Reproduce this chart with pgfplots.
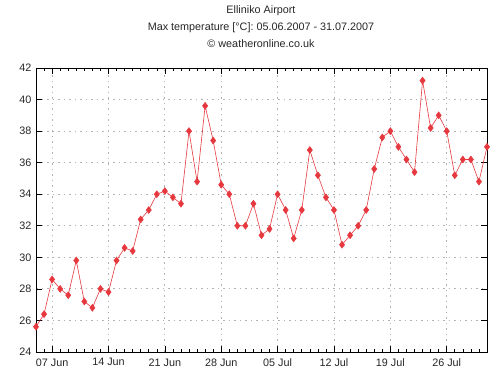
\documentclass[border=0pt]{standalone}
\usepackage{fontspec}
\setmainfont{Liberation Sans}
\usepackage{pgfplots}
\pgfplotsset{compat=1.18}
\definecolor{linered}{HTML}{E6393F}
\begin{document}
\begin{tikzpicture}
\useasboundingbox (0,0) rectangle (498bp,378bp);
\begin{axis}[
  at={(36bp,26bp)}, anchor=south west,
  scale only axis, width=451bp, height=284bp,
  xmin=0, xmax=56, ymin=24, ymax=42,
  ytick={24,26,...,42},
  xtick={2,9,16,23,30,37,44,51},
  xticklabels={07 Jun,14 Jun,21 Jun,28 Jun,05 Jul,12 Jul,19 Jul,26 Jul},
  minor xtick={0,1,...,56},
  tick align=inside,
  major tick length=6bp, minor tick length=3bp,
  tick style={black, line width=0.6bp},
  grid=major,
  grid style={black!30, dash pattern=on 1.5bp off 4bp, line width=0.8bp},
  axis line style={black, line width=0.9bp},
  tick label style={font=\fontsize{10.8bp}{12bp}\selectfont, text=black!85},
  /pgf/number format/assume math mode=true,
  xticklabel style={yshift=-3bp},
  yticklabel style={xshift=-1bp},
]
\addplot[color=linered, line width=0.6bp, mark=diamond*, mark size=3.4bp, mark options={fill=linered, draw=linered}] table {
x y
0 25.6
1 26.4
2 28.6
3 28.0
4 27.6
5 29.8
6 27.2
7 26.8
8 28.0
9 27.8
10 29.8
11 30.6
12 30.4
13 32.4
14 33.0
15 34.0
16 34.2
17 33.8
18 33.4
19 38.0
20 34.8
21 39.6
22 37.4
23 34.6
24 34.0
25 32.0
26 32.0
27 33.4
28 31.4
29 31.8
30 34.0
31 33.0
32 31.2
33 33.0
34 36.8
35 35.2
36 33.8
37 33.0
38 30.8
39 31.4
40 32.0
41 33.0
42 35.6
43 37.6
44 38.0
45 37.0
46 36.2
47 35.4
48 41.2
49 38.2
50 39.0
51 38.0
52 35.2
53 36.2
54 36.2
55 34.8
56 37.0
};
\end{axis}
\node[font=\fontsize{10.8bp}{12bp}\selectfont, text=black!85] at (261bp,367.5bp) {Elliniko Airport};
\node[font=\fontsize{10.8bp}{12bp}\selectfont, text=black!85] at (261bp,350.5bp) {Max temperature [°C]: 05.06.2007 - 31.07.2007};
\node[font=\fontsize{10.8bp}{12bp}\selectfont, text=black!85] at (261bp,334.5bp) {© weatheronline.co.uk};
\end{tikzpicture}
\end{document}
